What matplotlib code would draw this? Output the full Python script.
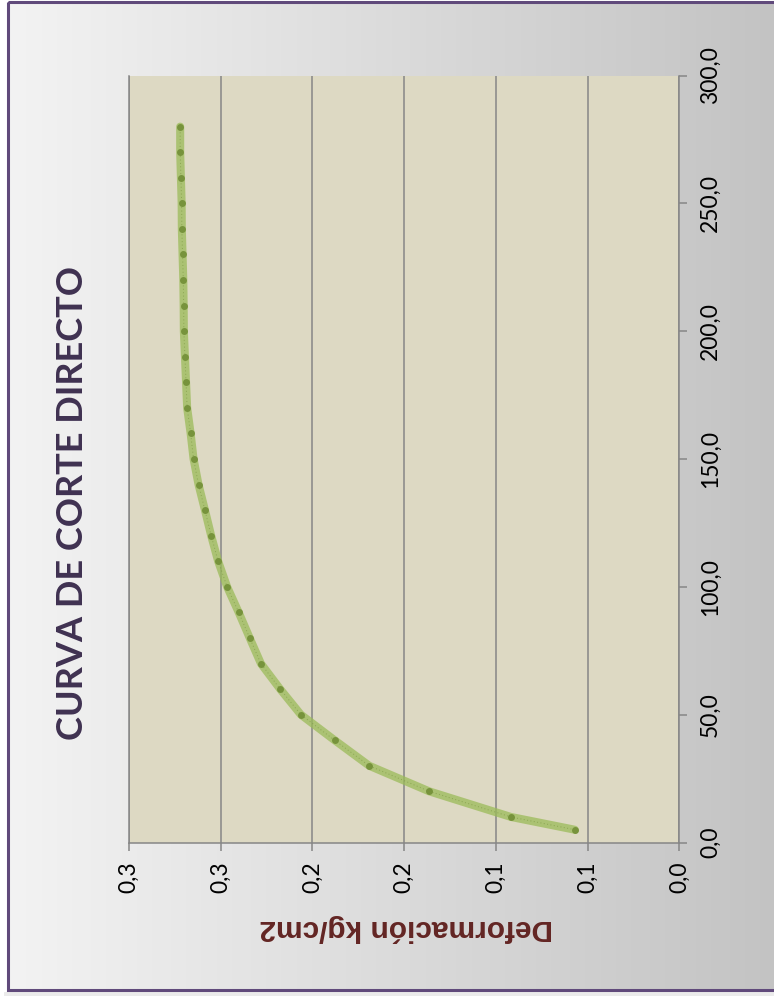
import numpy as np
import matplotlib
matplotlib.use('Agg')
import matplotlib.pyplot as plt
from matplotlib.patches import Rectangle

# ensayo de corte directo: desplazamiento vs esfuerzo
desplazamiento = [5, 10, 20, 30, 40, 50, 60, 70, 80, 90, 100, 110, 120, 130, 140,
                  150, 160, 170, 180, 190, 200, 210, 220, 230, 240, 250, 260, 270, 280]
esfuerzo = [0.057, 0.0918, 0.1363, 0.169, 0.1879, 0.2063, 0.2176, 0.2281, 0.2342,
            0.2402, 0.2465, 0.2514, 0.2552, 0.2586, 0.2621, 0.2648, 0.2664, 0.2683,
            0.2689, 0.2695, 0.2701, 0.2702, 0.2704, 0.2708, 0.2712, 0.2713, 0.2717,
            0.2721, 0.2721]

ticks_esf = [0.0, 0.05, 0.10, 0.15, 0.20, 0.25, 0.30]
etiquetas_esf = ['0,0', '0,1', '0,1', '0,2', '0,2', '0,3', '0,3']
ticks_desp = [0, 50, 100, 150, 200, 250, 300]
etiquetas_desp = ['0,0', '50,0', '100,0', '150,0', '200,0', '250,0', '300,0']

W, H = 774, 1001
fig = plt.figure(figsize=(W / 100, H / 100), dpi=100)
fig.patch.set_facecolor('white')

# fondo con degradado y marco
bg = fig.add_axes([0, 0, 1, 1])
bg.set_xlim(0, W)
bg.set_ylim(H, 0)
bg.axis('off')
grad = np.linspace(243, 194, 256)[None, :] / 255.0
bg.imshow(np.dstack([grad, grad, grad]), extent=[8, W + 20, 990, 2], aspect='auto', zorder=0)
bg.add_patch(Rectangle((4, 992), W, 4, color='#d8d8d8', alpha=0.5, lw=0, zorder=1))
bg.add_patch(Rectangle((8, 2), W + 20, 988, fill=False, edgecolor='#604A7B', lw=2.2, zorder=2))
bg.text(73, 503, 'CURVA DE CORTE DIRECTO', rotation=90, ha='center', va='center',
        fontsize=26, fontweight='bold', family='Lato', color='#3F3151')
bg.text(406, 928, 'Deformación kg/cm2', rotation=180, ha='center', va='center',
        fontsize=21.5, fontweight='bold', family='Liberation Sans', color='#632523')

ax = fig.add_axes([129 / W, 1 - 842.5 / H, 550.3 / W, 767 / H])
ax.set_facecolor('#DDD9C3')
ax.set_xlim(0.3, 0)
ax.set_ylim(0, 300)

ax.set_xticks(ticks_esf)
ax.set_xticklabels(etiquetas_esf, rotation=90, ha='center', va='top',
                   family='Lato', fontsize=16.5)
ax.yaxis.tick_right()
ax.set_yticks(ticks_desp)
ax.set_yticklabels(etiquetas_desp, rotation=90, ha='left', va='center',
                   family='Lato', fontsize=16.5)
ax.tick_params(axis='x', direction='out', length=5.8, width=1.1, color='#868686', pad=8)
ax.tick_params(axis='y', direction='out', length=5.8, width=1.1, color='#868686', pad=9)
ax.grid(axis='x', color='#868686', lw=1.1)
ax.grid(axis='y', visible=False)
ax.set_axisbelow(True)
ax.spines['top'].set_visible(False)
for s in ['left', 'bottom', 'right']:
    ax.spines[s].set_color('#868686')
    ax.spines[s].set_linewidth(1.1)

ax.plot(esfuerzo, desplazamiento, color='#9BBB59', lw=5.8, alpha=0.75,
        solid_capstyle='round', zorder=3)
ax.plot(esfuerzo, desplazamiento, color='#76923C', lw=0.7, ls=(0, (1, 2.5)),
        alpha=0.6, zorder=4)
ax.plot(esfuerzo, desplazamiento, 'o', ms=5, color='#77933C', mec='none', zorder=5)

fig.savefig('out.png', dpi=100)
